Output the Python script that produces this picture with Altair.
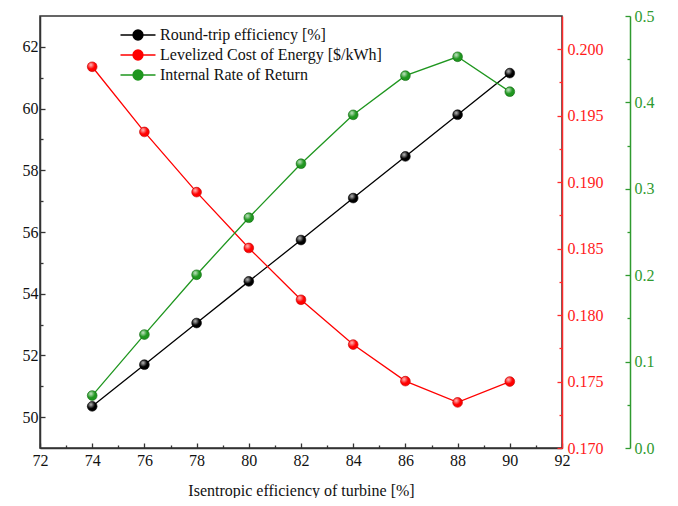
import altair as alt
import pandas as pd

# ---- data ----
turbine_eff = [74, 76, 78, 80, 82, 84, 86, 88, 90]
round_trip = [50.35, 51.70, 53.05, 54.40, 55.74, 57.10, 58.45, 59.80, 61.15]
lcoe = [0.19868, 0.19378, 0.18925, 0.18505, 0.18115, 0.17778, 0.17503, 0.17343, 0.17500]
irr = [0.0607, 0.1313, 0.2005, 0.2665, 0.3290, 0.3856, 0.4309, 0.4528, 0.4124]

series_names = ["Round-trip efficiency [%]", "Levelized Cost of Energy [$/kWh]", "Internal Rate of Return"]
series_colors = ["#000000", "#ff0000", "#1f961f"]

x_ticks = list(range(72, 93))
left_ticks = list(range(50, 63))
red_ticks = [round(0.170 + 0.0025 * i, 4) for i in range(13)]
green_ticks = [round(0.05 * i, 2) for i in range(11)]

rows = []
for name, vals in zip(series_names, [round_trip, lcoe, irr]):
    for xv, yv in zip(turbine_eff, vals):
        rows.append({"x": xv, "series": name, "value": yv})
df = pd.DataFrame(rows)

FONT = "Liberation Serif"

legend_path = "M-1.75,0L1.75,0M-0.5,0A0.5,0.5,0,1,1,0.5,0A0.5,0.5,0,1,1,-0.5,0Z"

color_enc = alt.Color(
    "series:N",
    scale=alt.Scale(domain=series_names, range=series_colors),
    legend=alt.Legend(
        title=None,
        orient="none",
        legendX=87,
        legendY=8,
        symbolType=legend_path,
        symbolSize=400,
        symbolStrokeWidth=1.3,
        symbolOpacity=1,
        labelFont=FONT,
        labelFontSize=16,
        labelColor="#111111",
        labelOffset=11,
        rowPadding=1,
        labelLimit=400,
    ),
)

x_enc = alt.X(
    "x:Q",
    scale=alt.Scale(domain=[72, 92], nice=False, zero=False),
    axis=alt.Axis(
        values=x_ticks,
        title="Isentropic efficiency of turbine [%]",
        labelExpr="datum.value % 2 === 0 ? datum.label : ''",
        tickSize={"condition": {"test": "datum.value % 2 === 0", "value": -5}, "value": -3},
        labelPadding=9,
        titlePadding=12,
        labelOverlap=False,
        labelFlush=False,
        domainColor="#333333",
        tickColor="#333333",
        labelColor="#111111",
    ),
)

highlight = alt.RadialGradient(
    gradient="radial",
    stops=[
        alt.GradientStop(color="rgba(255,255,255,0.75)", offset=0),
        alt.GradientStop(color="rgba(255,255,255,0.0)", offset=1),
    ],
    x1=0.35, y1=0.3, r1=0.0, x2=0.35, y2=0.3, r2=0.45,
)


def series_layer(name, y_scale, y_axis, dark):
    base = alt.Chart(df).transform_filter(alt.datum.series == name)
    y = alt.Y("value:Q", scale=y_scale, axis=y_axis)
    line = base.mark_line(strokeWidth=1.3).encode(x=x_enc, y=y, color=color_enc)
    pts = base.mark_point(filled=True, size=95, opacity=1,
                          stroke=dark, strokeWidth=0.6).encode(x=x_enc, y=y, color=color_enc)
    shine = base.mark_point(filled=True, fill=highlight, size=80, opacity=1,
                            strokeOpacity=0).encode(x=x_enc, y=y)
    return alt.layer(line, pts, shine)


left_axis = alt.Axis(
    orient="left",
    values=left_ticks,
    title=None,
    labelExpr="datum.value % 2 === 0 ? datum.label : ''",
    tickSize={"condition": {"test": "datum.value % 2 === 0", "value": -5}, "value": -3},
    labelPadding=7,
    labelOverlap=False,
    labelFlush=False,
    domainColor="#333333",
    tickColor="#333333",
    labelColor="#111111",
)

red_axis = alt.Axis(
    orient="right",
    values=red_ticks,
    title=None,
    labelExpr="round(datum.value*400) % 2 === 0 ? format(datum.value, '.3f') : ''",
    tickSize={"condition": {"test": "round(datum.value*400) % 2 === 0", "value": -5}, "value": -3},
    labelPadding=10,
    labelOverlap=False,
    labelFlush=False,
    domainColor="#ff2a2a",
    tickColor="#ff2a2a",
    labelColor="#ff1a1a",
)

green_axis = alt.Axis(
    orient="right",
    offset=68,
    values=green_ticks,
    title=None,
    labelExpr="round(datum.value*20) % 2 === 0 ? format(datum.value, '.1f') : ''",
    tickSize={"condition": {"test": "round(datum.value*20) % 2 === 0", "value": -5}, "value": -3},
    labelPadding=9,
    labelOverlap=False,
    labelFlush=False,
    domainColor="#2f9a2f",
    tickColor="#2f9a2f",
    labelColor="#2f9a2f",
)

black = series_layer(series_names[0],
                     alt.Scale(domain=[49, 63], nice=False, zero=False), left_axis, "#000000")
red = series_layer(series_names[1],
                   alt.Scale(domain=[0.170, 0.2025], nice=False, zero=False), red_axis, "#c00000")
green = series_layer(series_names[2],
                     alt.Scale(domain=[0, 0.5], nice=False, zero=False), green_axis, "#0b640b")

chart = (
    alt.layer(black, red, green)
    .resolve_scale(y="independent", color="shared")
    .properties(
        width=522,
        height=432,
        autosize=alt.AutoSizeParams(type="none"),
        padding={"left": 32, "top": 8, "right": 108, "bottom": 50},
        background="white",
    )
    .configure_view(stroke="#333333", strokeWidth=1.5)
    .configure_axis(
        labelFont=FONT,
        labelFontSize=16,
        titleFont=FONT,
        titleFontSize=16,
        titleFontWeight="normal",
        titleColor="#111111",
        domainWidth=1.5,
        tickWidth=1.3,
        grid=False,
    )
)

chart.save("out.html", embed_options={"renderer": "svg", "actions": False})
